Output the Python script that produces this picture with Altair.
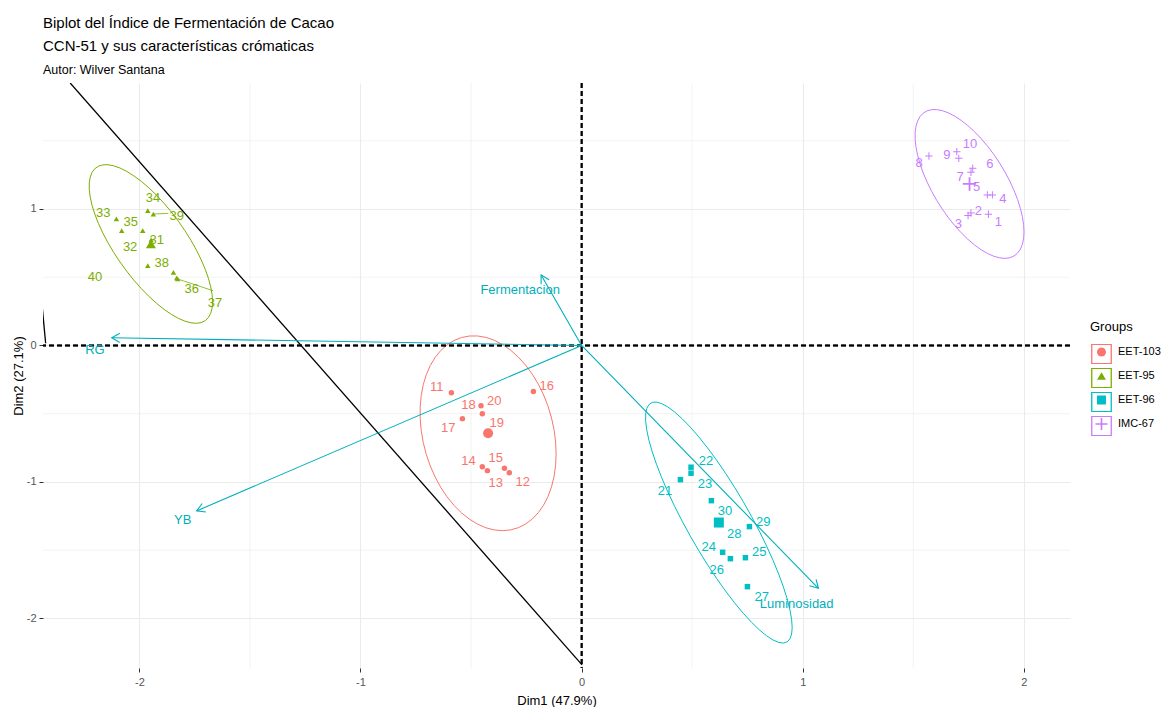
import altair as alt
import numpy as np
import pandas as pd

FONT = "Liberation Sans"

# ---- groups and their styling -------------------------------------------
groups = ["EET-103", "EET-95", "EET-96", "IMC-67"]
group_colors = ["#F8766D", "#7CAE00", "#00BFC4", "#C77CFF"]
plus_path = "M-1.35,-0.18H-0.18V-1.35H0.18V-0.18H1.35V0.18H0.18V1.35H-0.18V0.18H-1.35Z"
group_shapes = ["circle", "triangle-up", "square", plus_path]

# ---- individuals (PCA coordinates) ---------------------------------------
ind_id = list(range(1, 41))
ind_group = ["IMC-67"] * 10 + ["EET-103"] * 10 + ["EET-96"] * 10 + ["EET-95"] * 10
dim1 = [1.840, 1.761, 1.748, 1.858, 1.835, 1.769, 1.761, 1.571, 1.697, 1.706,
        -0.589, -0.327, -0.426, -0.449, -0.349, -0.218, -0.539, -0.449, -0.428, -0.455,
        0.447, 0.495, 0.495, 0.638, 0.741, 0.673, 0.750, 0.623, 0.759, 0.587,
        -1.947, -1.985, -2.104, -1.962, -2.080, -1.831, -1.827, -1.846, -1.937, -1.962]
dim2 = [0.961, 0.971, 0.952, 1.103, 1.103, 1.298, 1.269, 1.388, 1.420, 1.371,
        -0.346, -0.932, -0.917, -0.888, -0.900, -0.338, -0.536, -0.500, -0.632, -0.441,
        -0.983, -0.892, -0.936, -1.515, -1.555, -1.562, -1.767, -1.298, -1.327, -1.137,
        0.773, 0.841, 0.927, 0.988, 0.841, 0.495, 0.487, 0.536, 0.963, 0.585]
# repelled label positions
label_x = [1.885, 1.794, 1.704, 1.905, 1.787, 1.847, 1.712, 1.526, 1.652, 1.757,
           -0.655, -0.266, -0.388, -0.512, -0.388, -0.158, -0.603, -0.512, -0.384, -0.395,
           0.377, 0.563, 0.558, 0.575, 0.803, 0.611, 0.815, 0.690, 0.822, 0.649,
           -1.922, -2.042, -2.164, -1.938, -2.039, -1.763, -1.658, -1.899, -1.831, -2.201]
label_y = [0.903, 0.988, 0.890, 1.073, 1.163, 1.330, 1.232, 1.335, 1.396, 1.476,
           -0.302, -0.998, -1.009, -0.846, -0.822, -0.297, -0.602, -0.436, -0.570, -0.404,
           -1.064, -0.846, -1.017, -1.474, -1.511, -1.645, -1.840, -1.381, -1.291, -1.210,
           0.773, 0.724, 0.971, 1.081, 0.907, 0.414, 0.314, 0.607, 0.949, 0.504]

# leader segments for labels pushed far from their points
leader_id = [37, 39]
leader_x2 = [-1.666, -1.869]
leader_y2 = [0.401, 0.968]

# ---- variables (arrows) ----------------------------------------------------
var_names = ["Fermentacion", "Luminosidad", "RG", "YB"]
var_dim1 = [-0.183, 1.071, -2.125, -1.741]
var_dim2 = [0.516, -1.779, 0.057, -1.212]
var_label_x = [-0.278, 0.973, -2.201, -1.804]
var_label_y = [0.407, -1.896, -0.033, -1.278]
var_color = "#00AFBB"

# ---- reference lines -------------------------------------------------------
ref_x = [-2.313, -2.439]
ref_y = [1.923, 0.273]
ref_x2 = [0.002, -2.424]
ref_y2 = [-2.340, 0.016]

minor_breaks = [-1.5, -0.5, 0.5, 1.5]
major_breaks = [-2, -1, 0, 1, 2]

X_DOMAIN = [-2.436, 2.209]
Y_DOMAIN = [-2.363, 1.923]
W, H = 1027, 585

# ---- tables ----------------------------------------------------------------
ind = pd.DataFrame({"id": ind_id, "group": ind_group, "dim1": dim1, "dim2": dim2,
                    "lx": label_x, "ly": label_y})
ind["lab"] = ind["id"].astype(str)

leaders = ind.set_index("id").loc[leader_id, ["group", "dim1", "dim2"]].reset_index()
leaders["x2"] = leader_x2
leaders["y2"] = leader_y2

means = ind.groupby("group", as_index=False)[["dim1", "dim2"]].mean()


def norm_ellipse(x, y, level=0.95, segments=51):
    """Multivariate-normal data ellipse (as stat_ellipse type='norm')."""
    x = np.asarray(x)
    y = np.asarray(y)
    n = len(x)
    dfd = n - 1
    # F(2, dfd) quantile in closed form
    fq = dfd / 2 * ((1 - level) ** (-2 / dfd) - 1)
    radius = np.sqrt(2 * fq)
    center = np.array([x.mean(), y.mean()])
    chol = np.linalg.cholesky(np.cov(x, y)).T
    t = np.linspace(0, 2 * np.pi, segments + 1)
    unit = np.column_stack([np.cos(t), np.sin(t)])
    return center + radius * unit @ chol


ell_rows = []
for g in groups:
    sub = ind[ind["group"] == g]
    pts = norm_ellipse(sub["dim1"], sub["dim2"])
    for k, (ex, ey) in enumerate(pts):
        ell_rows.append({"group": g, "k": k, "ex": ex, "ey": ey})
ell = pd.DataFrame(ell_rows)

sx = W / (X_DOMAIN[1] - X_DOMAIN[0])
sy = H / (Y_DOMAIN[1] - Y_DOMAIN[0])
var = pd.DataFrame({"name": var_names, "dim1": var_dim1, "dim2": var_dim2,
                    "lx": var_label_x, "ly": var_label_y})
var["x0"] = 0.0
var["y0"] = 0.0
var["angle"] = (np.degrees(np.arctan2(var["dim1"] * sx, var["dim2"] * sy)) + 360) % 360

ref = pd.DataFrame({"x": ref_x, "y": ref_y, "x2": ref_x2, "y2": ref_y2})
minor_x = pd.DataFrame({"v": minor_breaks})

# ---- encodings -------------------------------------------------------------
label_expr = "datum.value < 0 ? '-' + abs(datum.value) : '' + datum.value"
x_axis = alt.Axis(values=major_breaks, title="Dim1 (47.9%)", labelExpr=label_expr,
                  labelPadding=4, titlePadding=7)
y_axis = alt.Axis(values=major_breaks, title="Dim2 (27.1%)", labelExpr=label_expr,
                  labelPadding=3, titlePadding=1)
x_scale = alt.Scale(domain=X_DOMAIN, nice=False, zero=False)
y_scale = alt.Scale(domain=Y_DOMAIN, nice=False, zero=False)


def X(f):
    return alt.X(f, type="quantitative", scale=x_scale, axis=x_axis)


def Y(f):
    return alt.Y(f, type="quantitative", scale=y_scale, axis=y_axis)


color_scale = alt.Scale(domain=groups, range=group_colors)
shape_scale = alt.Scale(domain=groups, range=group_shapes)
legend_text = dict(labelFontSize=11, titleFontSize=13, labelFont=FONT, titleFont=FONT,
                   titleFontWeight="normal", clipHeight=20, rowPadding=4)

# key boxes drawn behind the group symbols (no text of their own)
box_legend = alt.Legend(title=" ", orient="right", offset=21, symbolType="square",
                        symbolSize=380, symbolStrokeWidth=1.3, titlePadding=248,
                        labelExpr="''", **legend_text)
# group symbols with their names
group_legend = alt.Legend(title="Groups", orient="none", legendX=1047, legendY=238,
                          symbolSize=80, symbolOffset=6, labelOffset=11, titlePadding=8,
                          **legend_text)

# ---- layers ----------------------------------------------------------------
minor_v = alt.Chart(minor_x).mark_rule(color="#EBEBEB", strokeWidth=0.6).encode(x=X("v"))
minor_h = alt.Chart(minor_x).mark_rule(color="#EBEBEB", strokeWidth=0.6).encode(y=Y("v"))

ellipses = alt.Chart(ell).mark_line(strokeWidth=1, clip=True).encode(
    x=X("ex"), y=Y("ey"), order="k:Q", detail="group:N",
    stroke=alt.Stroke("group:N", scale=alt.Scale(range=group_colors), legend=box_legend))

hline = alt.Chart(minor_x).mark_rule(color="black", strokeDash=[5, 3], strokeWidth=1.5).encode(
    y=alt.datum(0, type="quantitative", scale=y_scale, axis=y_axis))
vline = alt.Chart(minor_x).mark_rule(color="black", strokeDash=[5, 3], strokeWidth=1.5).encode(
    x=alt.datum(0, type="quantitative", scale=x_scale, axis=x_axis))

ref_lines = alt.Chart(ref).mark_rule(color="black", strokeWidth=1.3, clip=True).encode(
    x=X("x"), y=Y("y"), x2="x2", y2="y2")

leader_lines = alt.Chart(leaders).mark_rule(strokeWidth=0.8).encode(
    x=X("dim1"), y=Y("dim2"), x2="x2", y2="y2",
    stroke=alt.Stroke("group:N", scale=alt.Scale(range=group_colors), legend=box_legend))

points = alt.Chart(ind).mark_point(filled=True, size=30, opacity=1).encode(
    x=X("dim1"), y=Y("dim2"),
    color=alt.Color("group:N", scale=color_scale, legend=group_legend),
    shape=alt.Shape("group:N", scale=shape_scale, legend=group_legend))

mean_points = alt.Chart(means).mark_point(filled=True, size=100, opacity=1).encode(
    x=X("dim1"), y=Y("dim2"),
    fill=alt.Fill("group:N", scale=color_scale, legend=None),
    shape=alt.Shape("group:N", scale=shape_scale, legend=group_legend))

labels = alt.Chart(ind).mark_text(font=FONT, fontSize=13, align="center", baseline="middle").encode(
    x=X("lx"), y=Y("ly"), text="lab:N",
    fill=alt.Fill("group:N", scale=color_scale, legend=None))

arrows = alt.Chart(var).mark_rule(color=var_color, strokeWidth=1.1).encode(
    x=X("x0"), y=Y("y0"), x2="dim1", y2="dim2")

heads = alt.Chart(var).mark_point(shape="M-0.577,1L0,0L0.577,1", size=256, filled=False,
                                  color=var_color, strokeWidth=1.1, opacity=1).encode(
    x=X("dim1"), y=Y("dim2"), angle=alt.Angle("angle:Q", scale=None))

var_labels = alt.Chart(var).mark_text(font=FONT, fontSize=13, color=var_color,
                                      align="center", baseline="middle").encode(
    x=X("lx"), y=Y("ly"), text="name:N")

chart = alt.layer(
    minor_v, minor_h, ellipses, hline, vline, ref_lines, leader_lines,
    points, mean_points, labels, arrows, heads, var_labels
).properties(
    width=W, height=H,
    background="white",
    title=alt.TitleParams(
        text=["Biplot del Índice de Fermentación de Cacao",
              "CCN-51 y sus características crómaticas"],
        subtitle="Autor: Wilver Santana",
        anchor="start", frame="group", font=FONT, subtitleFont=FONT,
        fontSize=15, subtitleFontSize=12.5, fontWeight="normal",
        color="black", subtitleColor="black", lineHeight=22.5,
        subtitlePadding=10, offset=6),
    autosize=alt.AutoSizeParams(type="none"),
    padding={"left": 43, "top": 83, "right": 92, "bottom": 39},
).configure_view(
    stroke=None
).configure_axis(
    grid=True, gridColor="#EBEBEB", gridWidth=1.1, domain=False,
    tickColor="#333333", tickSize=4, tickWidth=1,
    labelFont=FONT, labelFontSize=11, labelColor="#555555",
    titleFont=FONT, titleFontSize=13, titleColor="black", titleFontWeight="normal"
)

chart.save("out.html", embed_options={"renderer": "svg", "actions": False})
